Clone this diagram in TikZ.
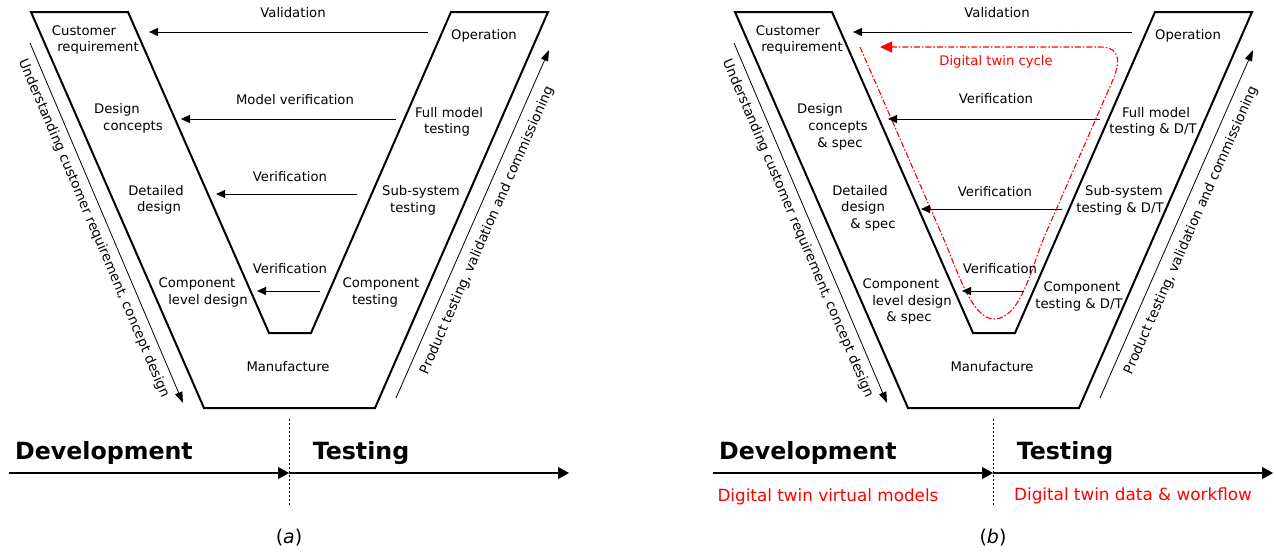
\documentclass[tikz,border=0pt]{standalone}
\usepackage{fontspec}
\setmainfont{DejaVu Sans}
\usetikzlibrary{arrows.meta}

\begin{document}
\begin{tikzpicture}[x=1pt, y=-1pt,
    lbl/.style={font=\fontsize{13.2}{16}\selectfont, inner sep=0pt},
    sidelbl/.style={font=\fontsize{13.5}{16}\selectfont, inner sep=0pt},
    phase/.style={font=\fontsize{23.7}{28}\selectfont\bfseries, inner sep=0pt},
    dtwin/.style={font=\fontsize{16.8}{20}\selectfont, text=red, inner sep=0pt},
    capt/.style={font=\fontsize{19}{22}\selectfont, inner sep=0pt},
    vframe/.style={line width=2pt, line join=miter},
    verarrow/.style={line width=0.9pt, -{Triangle[length=9pt, width=8pt]}},
    sidearrow/.style={line width=0.8pt, -{Triangle[length=11pt, width=7.5pt]}},
    timeline/.style={line width=1.3pt, -{Triangle[length=11pt, width=12pt]}},
    divider/.style={line width=0.6pt, dash pattern=on 2pt off 2pt},
    twincycle/.style={red, line width=1.1pt, dash pattern=on 6pt off 2pt on 1.5pt off 2pt,
        -{Triangle[length=12pt, width=11pt]}}]

    \useasboundingbox (0,0) rectangle (1276,554);

    % V frame, side arrows and time line, the same in (a) and (b)
    \foreach \o/\pnl in {0/a, 704/b} {
    \begin{scope}[xshift=\o pt]
    \draw[vframe] (31,12) -- (128,12) -- (269,333) -- (311,333) -- (451,12)
        -- (548,12) -- (375,408) -- (204,408) -- cycle;

    \node[lbl] (val\pnl) at (293,13) {Validation};
    \coordinate (vs\pnl) at (428,32);
    \coordinate (ve\pnl) at (149,32);
    \draw[verarrow] (vs\pnl) -- (ve\pnl);

    \node[lbl] (cust\pnl) at (84,31) {Customer};
    \node[lbl] (req\pnl) at (98,48) {requirement};
    \node[lbl] (oper\pnl) at (484,36) {Operation};
    \node[lbl] (manuf\pnl) at (288,367) {Manufacture};

    \coordinate (ls\pnl) at (30,43);
    \coordinate (le\pnl) at (183,403);
    \draw[sidearrow] (ls\pnl) -- node[midway, sloped, below=7pt, sidelbl] (und\pnl)
        {Understanding customer requirement, concept design} (le\pnl);
    \coordinate (rs\pnl) at (396,398);
    \coordinate (re\pnl) at (549,50);
    \draw[sidearrow] (rs\pnl) -- node[midway, sloped, below=9pt, sidelbl] (prod\pnl)
        {Product testing, validation and commissioning} (re\pnl);

    \coordinate (t0\pnl) at (9,473);
    \coordinate (t1\pnl) at (289,473);
    \coordinate (t2\pnl) at (569,473);
    \draw[timeline] (t0\pnl) -- (t1\pnl);
    \draw[timeline] (t1\pnl) -- (t2\pnl);
    \coordinate (d0\pnl) at (289,419);
    \coordinate (d1\pnl) at (289,505);
    \draw[divider] (d0\pnl) -- (d1\pnl);
    \node[phase] (dev\pnl) at (104,453) {Development};
    \node[phase] (test\pnl) at (361,453) {Testing};
    \node[capt] (cap\pnl) at (289,538) {(\textit{\pnl})};
    \end{scope}
    }

    % (a) classic V
    \node[lbl] (mver) at (295,100) {Model verification};
    \coordinate (mv1) at (396,119);
    \coordinate (mv2) at (181,119);
    \draw[verarrow] (mv1) -- (mv2);
    \node[lbl] (desa1) at (117,110) {Design};
    \node[lbl] (desa2) at (133,127) {concepts};
    \node[lbl] (fulla1) at (449,113) {Full model};
    \node[lbl] (fulla2) at (447,130) {testing};

    \node[lbl] (vera2) at (290,177) {Verification};
    \coordinate (va1) at (357,194);
    \coordinate (va2) at (216,194);
    \draw[verarrow] (va1) -- (va2);
    \node[lbl] (deta1) at (156,191) {Detailed};
    \node[lbl] (deta2) at (159,208) {design};
    \node[lbl] (suba1) at (421,192) {Sub-system};
    \node[lbl] (suba2) at (413,209) {testing};

    \node[lbl] (vera3) at (290,269) {Verification};
    \coordinate (wa1) at (320,291);
    \coordinate (wa2) at (257,291);
    \draw[verarrow] (wa1) -- (wa2);
    \node[lbl] (coma1) at (197,284) {Component};
    \node[lbl] (coma2) at (208,301) {level design};
    \node[lbl] (ctsa1) at (381,284) {Component};
    \node[lbl] (ctsa2) at (375,301) {testing};

    % (b) V with digital twin
    \coordinate (cyc0) at (860,47);
    \coordinate (cyc1) at (880,47);
    \draw[twincycle] (cyc0) -- (942,235) .. controls (958,272) and (972,319) .. (994,319)
        .. controls (1020,319) and (1030,272) .. (1045,235) -- (1112,82)
        .. controls (1120,64) and (1122,47) .. (1100,47) -- (cyc1);
    \node[lbl, text=red] (cyclbl) at (996,62) {Digital twin cycle};

    \node[lbl] (verb1) at (996,99) {Verification};
    \coordinate (vb1) at (1100,119);
    \coordinate (vb2) at (888,119);
    \draw[verarrow] (vb1) -- (vb2);
    \node[lbl] (desb1) at (820,110) {Design};
    \node[lbl] (desb2) at (838,127) {concepts};
    \node[lbl] (desb3) at (840,144) {\& spec};
    \node[lbl] (fullb1) at (1156,113) {Full model};
    \node[lbl] (fullb2) at (1153,130) {testing \& D/T};

    \node[lbl] (verb2) at (995,192) {Verification};
    \coordinate (wb1) at (1062,209);
    \coordinate (wb2) at (921,209);
    \draw[verarrow] (wb1) -- (wb2);
    \node[lbl] (detb1) at (860,191) {Detailed};
    \node[lbl] (detb2) at (863,208) {design};
    \node[lbl] (detb3) at (873,225) {\& spec};
    \node[lbl] (subb1) at (1124,192) {Sub-system};
    \node[lbl] (subb2) at (1120,209) {testing \& D/T};

    \node[lbl] (verb3) at (1000,269) {Verification};
    \coordinate (xb1) at (1024,291);
    \coordinate (xb2) at (962,291);
    \draw[verarrow] (xb1) -- (xb2);
    \node[lbl] (comb1) at (901,285) {Component};
    \node[lbl] (comb2) at (912,302) {level design};
    \node[lbl] (comb3) at (909,318) {\& spec};
    \node[lbl] (ctsb1) at (1082,288) {Component};
    \node[lbl] (ctsb2) at (1079,305) {testing \& D/T};

    \node[dtwin] (dtvm) at (828,497) {Digital twin virtual models};
    \node[dtwin] (dtdw) at (1133,496) {Digital twin data \& workflow};

\end{tikzpicture}
\end{document}
